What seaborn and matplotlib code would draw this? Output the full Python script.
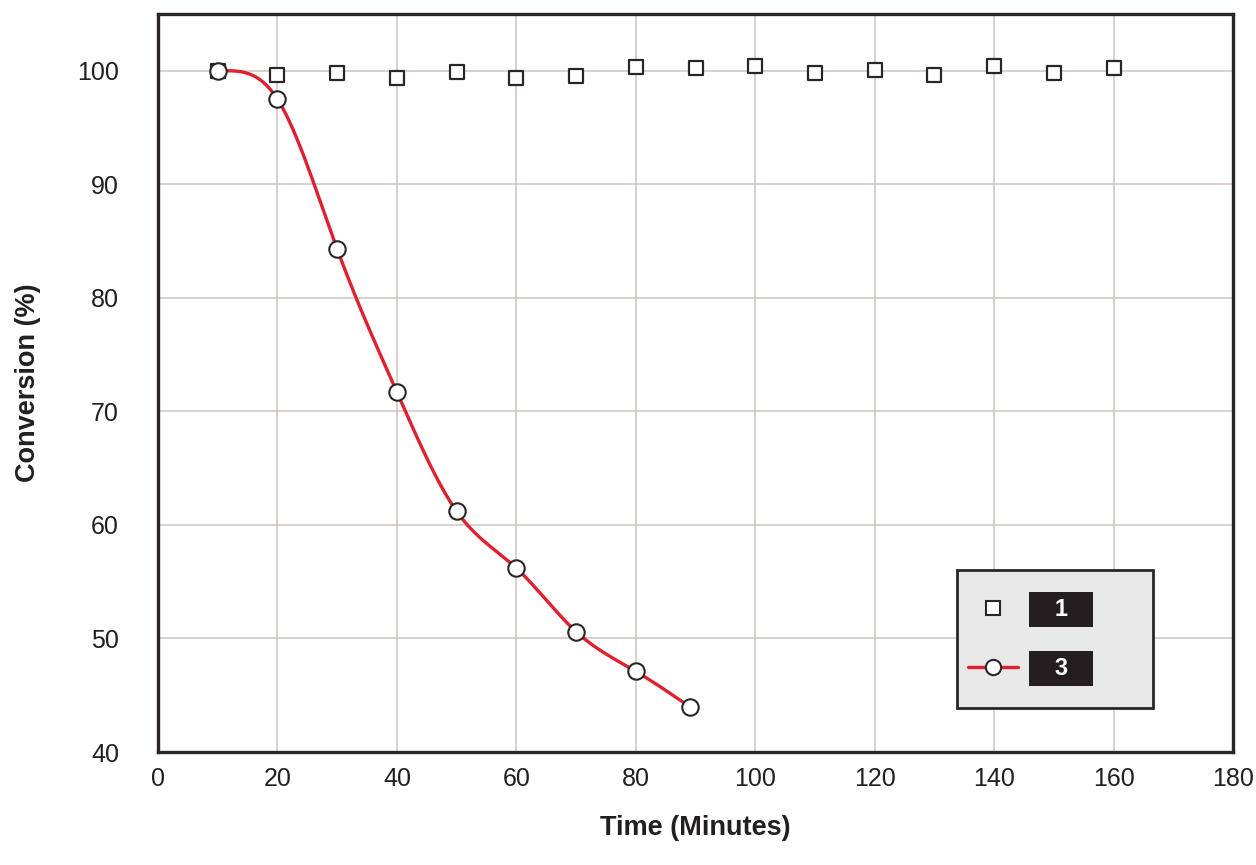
import numpy as np
import pandas as pd
import matplotlib
matplotlib.use('Agg')
import matplotlib.pyplot as plt
from matplotlib.lines import Line2D
from matplotlib.patches import Rectangle
import seaborn as sns

sns.set_style("whitegrid")
plt.rcParams['font.family'] = ['Liberation Sans', 'DejaVu Sans']

# ---- data ----
time_1 = [10, 20, 30, 40, 50, 60, 70, 80, 90, 100, 110, 120, 130, 140, 150, 160]
conv_1 = [100.0, 99.6, 99.8, 99.4, 99.9, 99.4, 99.5, 100.3, 100.2, 100.4,
          99.8, 100.1, 99.6, 100.4, 99.8, 100.2]

time_3 = [10, 20, 30, 40, 50, 60, 70, 80, 89]
conv_3 = [100.0, 97.5, 84.3, 71.7, 61.2, 56.2, 50.6, 47.1, 44.0]

series_labels = ['1', '3']
x_ticks = [0, 20, 40, 60, 80, 100, 120, 140, 160, 180]
y_ticks = [40, 50, 60, 70, 80, 90, 100]

RED = '#e0202e'
DARK = '#2a2626'
GRID = '#cdc4c2'
TXT = '#231f20'


def spline(x, y, xs):
    # cubic spline (flat start, natural end) only used to draw the smooth line
    x = np.asarray(x, float)
    y = np.asarray(y, float)
    n = len(x)
    h = np.diff(x)
    d = np.diff(y) / h
    A = np.zeros((n, n))
    b = np.zeros(n)
    A[0, 0], A[0, 1] = 2 * h[0], h[0]
    b[0] = 6 * d[0]
    for i in range(1, n - 1):
        A[i, i - 1] = h[i - 1]
        A[i, i] = 2 * (h[i - 1] + h[i])
        A[i, i + 1] = h[i]
        b[i] = 6 * (d[i] - d[i - 1])
    A[-1, -1] = 1.0
    M = np.linalg.solve(A, b)
    i = np.clip(np.searchsorted(x, xs) - 1, 0, n - 2)
    hi = h[i]
    a = x[i + 1] - xs
    c = xs - x[i]
    return (M[i] * a**3 / (6 * hi) + M[i + 1] * c**3 / (6 * hi)
            + (y[i] / hi - M[i] * hi / 6) * a + (y[i + 1] / hi - M[i + 1] * hi / 6) * c)


df1 = pd.DataFrame({'Time': time_1, 'Conversion': conv_1})
df3 = pd.DataFrame({'Time': time_3, 'Conversion': conv_3})
xs = np.linspace(time_3[0], time_3[-1], 400)
smooth = pd.DataFrame({'Time': xs, 'Conversion': spline(time_3, conv_3, xs)})

fig = plt.figure(figsize=(12.56, 8.65), dpi=100)
ax = fig.add_axes([158 / 1256, 1 - 752 / 865, 1075 / 1256, 738 / 865])

sns.scatterplot(data=df1, x='Time', y='Conversion', marker='s', s=115,
                facecolor='white', edgecolor=DARK, linewidth=1.6, ax=ax, zorder=3)
sns.lineplot(data=smooth, x='Time', y='Conversion', color=RED, linewidth=2.4,
             ax=ax, zorder=4)
sns.scatterplot(data=df3, x='Time', y='Conversion', marker='o', s=140,
                facecolor='white', edgecolor=DARK, linewidth=1.5, ax=ax, zorder=5)

ax.set_xlim(0, 180)
ax.set_ylim(40, 105)
ax.set_xticks(x_ticks)
ax.set_yticks(y_ticks)
ax.grid(True, color=GRID, linewidth=1.1)
ax.tick_params(axis='both', length=0, labelsize=18, colors=TXT)
ax.tick_params(axis='x', pad=11)
ax.tick_params(axis='y', pad=28)
for sp in ax.spines.values():
    sp.set_color(DARK)
    sp.set_linewidth(2.4)

ax.set_xlabel('Time (Minutes)', fontsize=19.5, fontweight='bold', labelpad=17, color=TXT)
ax.set_ylabel('Conversion (%)', fontsize=19.5, fontweight='bold', labelpad=26, color=TXT)

# legend panel (grey box with dark border)
ax.add_patch(Rectangle((0.7433, 0.0596), 0.1823, 0.187, transform=ax.transAxes,
                       facecolor='#e8e8e8', edgecolor=DARK, linewidth=2.0, zorder=6))

handles = [
    Line2D([], [], linestyle='none', marker='s', markersize=10,
           markerfacecolor='white', markeredgecolor=DARK, markeredgewidth=1.5),
    Line2D([], [], color=RED, linewidth=2.4, marker='o', markersize=11,
           markerfacecolor='white', markeredgecolor=DARK, markeredgewidth=1.5),
]
leg = ax.legend(handles, ['   ' + s + '   ' for s in series_labels],
                loc='center left', bbox_to_anchor=(0.7535, 0.153), borderaxespad=0,
                frameon=False, fontsize=17, handlelength=2.1, handletextpad=0.72,
                labelspacing=1.5, borderpad=0)
leg.set_zorder(7)
for t in leg.get_texts():
    t.set_color('white')
    t.set_fontweight('bold')
    t.set_bbox(dict(boxstyle='square,pad=0.25', facecolor=TXT, edgecolor='none'))

fig.savefig('out.png', dpi=100)
